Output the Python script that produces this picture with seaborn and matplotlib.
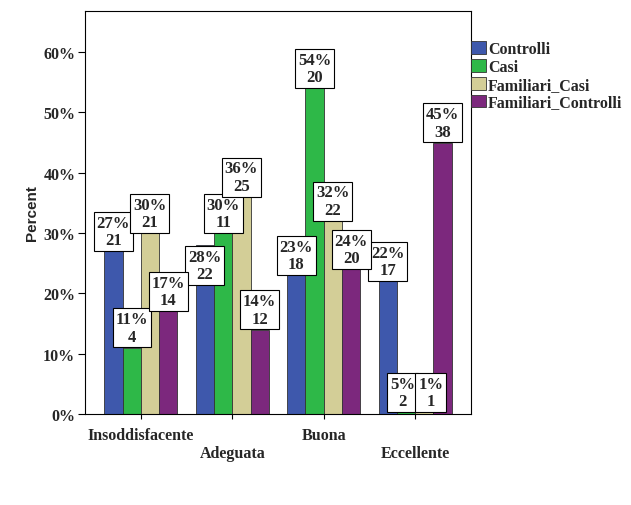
import matplotlib
matplotlib.use("Agg")
import matplotlib.pyplot as plt
import seaborn as sns
import pandas as pd
from matplotlib.ticker import FuncFormatter

categories = ["Insoddisfacente", "Adeguata", "Buona", "Eccellente"]
series = ["Controlli", "Casi", "Familiari_Casi", "Familiari_Controlli"]
percents = {
    "Controlli": [27, 28, 23, 22],
    "Casi": [11, 30, 54, 5],
    "Familiari_Casi": [30, 36, 32, 1],
    "Familiari_Controlli": [17, 14, 24, 45],
}
counts = {
    "Controlli": [21, 22, 18, 17],
    "Casi": [4, 11, 20, 2],
    "Familiari_Casi": [21, 25, 22, 1],
    "Familiari_Controlli": [14, 12, 20, 38],
}
colors = ["#3E58AC", "#2EB848", "#D3CE97", "#7C287D"]

rows = []
for s in series:
    for c, p, n in zip(categories, percents[s], counts[s]):
        rows.append({"cat": c, "series": s, "pct": p, "n": n})
df = pd.DataFrame(rows)

SERIF = "Liberation Serif"
FS = 11.5

sns.set_style("white")
fig = plt.figure(figsize=(6.31, 5.06), dpi=100)
ax = fig.add_axes([85/631, 1-415/506, (471-85)/631, (415-12)/506])

sns.barplot(data=df, x="cat", y="pct", hue="series", order=categories,
            hue_order=series, palette=colors, width=0.8, gap=0,
            edgecolor="#333333", linewidth=0.6, saturation=1, ax=ax, legend=True)

ax.set_ylim(0, 66.8)
ax.set_xlim(-0.61, 3.61)
ax.set_yticks(range(0, 61, 10))
ax.yaxis.set_major_formatter(FuncFormatter(lambda v, p: f"{int(v)}%"))
ax.set_xlabel("")
ax.set_ylabel("Percent", fontsize=11, fontweight="bold", family="Liberation Sans", labelpad=3)
for sp in ax.spines.values():
    sp.set_visible(True)
    sp.set_color("black")
    sp.set_linewidth(0.8)

ax.tick_params(axis="y", left=True, length=5, width=0.8, color="black", pad=2)
ax.tick_params(axis="x", bottom=True, width=0.8, color="black")
for lab in ax.get_yticklabels():
    lab.set_fontfamily(SERIF)
    lab.set_fontweight("bold")
    lab.set_fontsize(FS)

tick_lens = [7, 25, 7, 25]
for t, L in zip(ax.xaxis.get_major_ticks(), tick_lens):
    t.tick1line.set_markersize(L * 0.72)
    t.set_pad(L * 0.72 + 0.5)
    t.label1.set_fontfamily(SERIF)
    t.label1.set_fontweight("bold")
    t.label1.set_fontsize(FS)

# labels hanging below bar top (SPSS moved them to avoid overlap)
hang_below = {("Controlli", "Adeguata")}

for si, (s, cont) in enumerate(zip(series, ax.containers)):
    for ci, bar in enumerate(cont):
        p = percents[s][ci]
        n = counts[s][ci]
        xc = bar.get_x() + bar.get_width() / 2
        va = "bottom"
        if p < 8:
            y = 0.8
            xc += (-0.04 if si == 1 else 0.07)
        elif (s, categories[ci]) in hang_below:
            y = p - 0.6
            va = "top"
        else:
            y = p + 0.5
        ax.text(xc, y, f"{p}%\n{n}", ha="center", va=va,
                fontfamily=SERIF, fontweight="bold", fontsize=12,
                linespacing=1.12, zorder=5,
                bbox=dict(boxstyle="square,pad=0.17", facecolor="white",
                          edgecolor="black", linewidth=0.8))

leg = ax.legend(loc="upper left", bbox_to_anchor=(1.0, 0.925), frameon=False,
                handlelength=0.95, handleheight=0.85, handletextpad=0.1,
                labelspacing=0.11, borderaxespad=0.0, borderpad=0.0,
                prop={"family": SERIF, "weight": "bold", "size": FS})
for h in leg.legend_handles:
    h.set_edgecolor("#333333")
    h.set_linewidth(0.6)

fig.savefig("out.png", dpi=100, facecolor="white")
